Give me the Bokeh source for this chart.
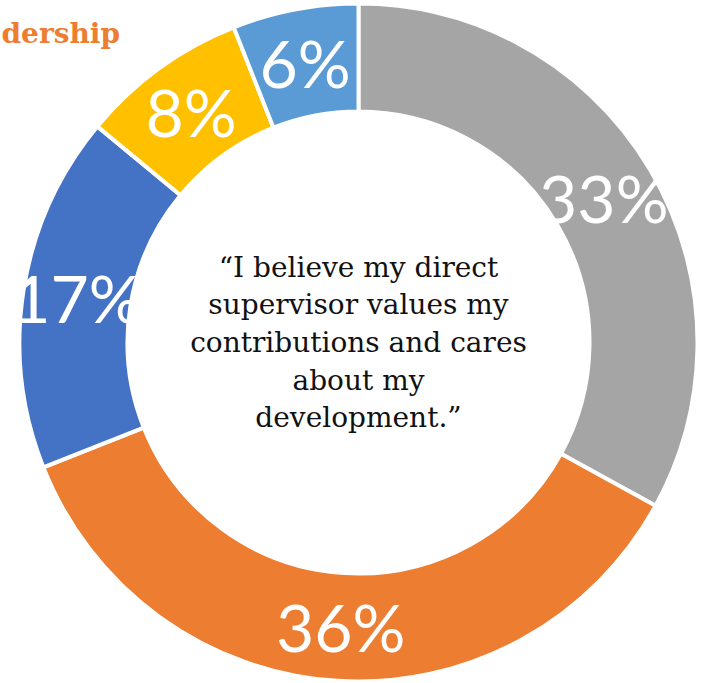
import math
from bokeh.plotting import figure
from bokeh.models import ColumnDataSource, Range1d
from bokeh.core.properties import value
from bokeh.embed import file_html
from bokeh.resources import INLINE

# ---- data ----
categories = ["Gray", "Orange", "Blue", "Yellow", "LightBlue"]
percents = [33, 36, 17, 8, 6]
labels = ["33%", "36%", "17%", "8%", "6%"]
colors = ["#A5A5A5", "#ED7D31", "#4472C4", "#FFC000", "#5B9BD5"]
center_lines = ["\u201cI believe my direct", "supervisor values my",
                "contributions and cares", "about my", "development.\u201d"]
title_text = "dership"

# ---- geometry (pixel-like data space: x = screen x, y = H - screen y) ----
W, H = 702, 683
cx, cy = 358, H - 342
r_in, r_out = 231, 339
r_lab = (r_in + r_out) / 2

total = sum(percents)
starts, ends, lx, ly = [], [], [], []
cum = 0
for v in percents:
    a0 = math.pi / 2 - 2 * math.pi * cum / total
    cum += v
    a1 = math.pi / 2 - 2 * math.pi * cum / total
    starts.append(a0)
    ends.append(a1)
    mid = (a0 + a1) / 2
    lx.append(cx + r_lab * math.cos(mid))
    ly.append(cy + r_lab * math.sin(mid))

src = ColumnDataSource(dict(cat=categories, val=percents, start=starts, end=ends,
                            color=colors, label=labels, lx=lx, ly=ly))

p = figure(width=W, height=H, output_backend="svg", toolbar_location=None,
           x_range=Range1d(0, W), y_range=Range1d(0, H),
           min_border=0, outline_line_color=None, background_fill_color="white",
           border_fill_color="white")
p.axis.visible = False
p.grid.visible = False

p.annular_wedge(x=cx, y=cy, inner_radius=r_in, outer_radius=r_out,
                start_angle="start", end_angle="end", direction="clock",
                fill_color="color", line_color="white", line_width=4, source=src)

p.text(x="lx", y="ly", text="label", source=src, text_color="white",
       text_font=value("Lato"), text_font_size="66px",
       text_align="center", text_baseline="middle")

p.text(x=[cx], y=[cy], text=["\n".join(center_lines)], text_color="#111111",
       text_font=value("DejaVu Serif"), text_font_size="28px",
       text_align="center", text_baseline="middle", text_line_height=1.14)

p.text(x=[1], y=[H - 33], text=[title_text], text_color="#ED7D31",
       text_font=value("DejaVu Serif"), text_font_style="bold",
       text_font_size="28px", text_align="left", text_baseline="alphabetic")

open("out.html", "w").write(file_html(p, INLINE))
